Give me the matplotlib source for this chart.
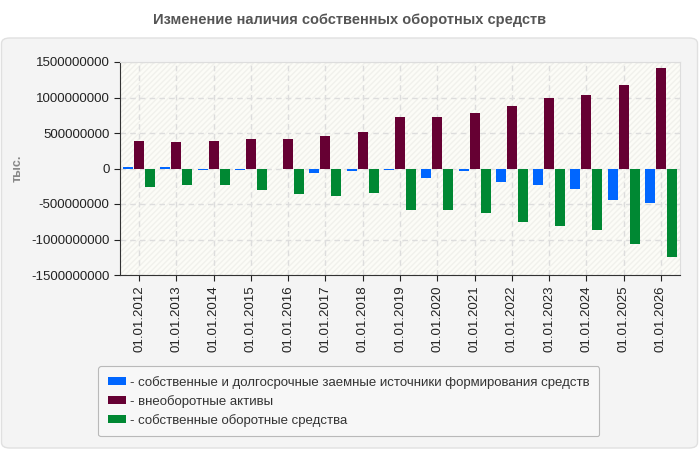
import numpy as np
import matplotlib.pyplot as plt
from matplotlib.patches import FancyBboxPatch, Rectangle

# Данные (тыс.)
years = ['01.01.2012', '01.01.2013', '01.01.2014', '01.01.2015', '01.01.2016',
         '01.01.2017', '01.01.2018', '01.01.2019', '01.01.2020', '01.01.2021',
         '01.01.2022', '01.01.2023', '01.01.2024', '01.01.2025', '01.01.2026']
istochniki = [24e6, 20e6, -20e6, -20e6, -10e6, -60e6, -35e6, -20e6, -130e6, -35e6,
              -190e6, -230e6, -290e6, -440e6, -485e6]
vneoborotnye = [390e6, 377e6, 390e6, 420e6, 420e6, 460e6, 520e6, 720e6, 720e6, 775e6,
                887e6, 986e6, 1030e6, 1180e6, 1410e6]
sos = [-260e6, -230e6, -230e6, -300e6, -360e6, -390e6, -340e6, -585e6, -585e6, -627e6,
       -755e6, -810e6, -870e6, -1066e6, -1250e6]
yticks = [1500000000, 1000000000, 500000000, 0, -500000000, -1000000000, -1500000000]
names = ['- собственные и долгосрочные заемные источники формирования средств',
         '- внеоборотные активы',
         '- собственные оборотные средства']
colors = ['#0066ff', '#660033', '#008833']

plt.rcParams['font.family'] = ['Liberation Sans', 'DejaVu Sans']

fig = plt.figure(figsize=(7, 4.5), dpi=100)
W, H = 700, 450

# серая панель
panel = FancyBboxPatch((1.5 / W, 2 / H), 696 / W, 410 / H,
                       boxstyle='round,pad=0,rounding_size=0.012',
                       transform=fig.transFigure, facecolor='#f4f4f4',
                       edgecolor='#e0e0e0', linewidth=1, zorder=-5)
fig.patches.append(panel)

fig.text(0.5, 1 - 20 / H, 'Изменение наличия собственных оборотных средств',
         ha='center', va='center', fontsize=10.5, fontweight='bold', color='#555555')

ax = fig.add_axes([120 / W, 1 - 275 / H, 560 / W, 213 / H])
ax.set_facecolor('#fcfcf7')
ax.add_patch(Rectangle((0, 0), 1, 1, transform=ax.transAxes, facecolor='none',
                       edgecolor='#f1f1ec', hatch='//////', linewidth=0, zorder=0))

x = np.arange(len(years))
w = 0.27
ax.bar(x - 0.295, istochniki, w, color=colors[0], label=names[0], zorder=3)
ax.bar(x, vneoborotnye, w, color=colors[1], label=names[1], zorder=3)
ax.bar(x + 0.295, sos, w, color=colors[2], label=names[2], zorder=3)

ax.set_xlim(-0.51, len(years) - 0.49)
ax.set_ylim(-1.5e9, 1.5e9)
ax.set_yticks(yticks)
ax.set_yticklabels([str(v) for v in yticks])
ax.set_xticks(x)
ax.set_xticklabels(years, rotation=90)
ax.tick_params(labelsize=9.5, colors='#222222', length=4)
ax.grid(True, color='#dddddd', linestyle=(0, (4, 3)), linewidth=1, zorder=1)
for s in ['top', 'right']:
    ax.spines[s].set_color('#dddddd')
for s in ['left', 'bottom']:
    ax.spines[s].set_color('#333333')

fig.text(18 / W, 1 - 168 / H, 'тыс.', rotation=90, ha='center', va='center',
         fontsize=9, fontweight='bold', color='#888888')

leg = fig.legend(loc='upper left', bbox_to_anchor=(98 / W, 1 - 366 / H),
                 borderaxespad=0, fontsize=9.5, frameon=True, fancybox=True,
                 handlelength=1.4, handleheight=0.6, handletextpad=0.25,
                 labelspacing=0.45, borderpad=0.75, edgecolor='#aaaaaa',
                 labelcolor='#333333')
leg.get_frame().set_facecolor('#f9f9f9')
leg.get_frame().set_linewidth(0.8)

fig.savefig('out.png', dpi=100)
